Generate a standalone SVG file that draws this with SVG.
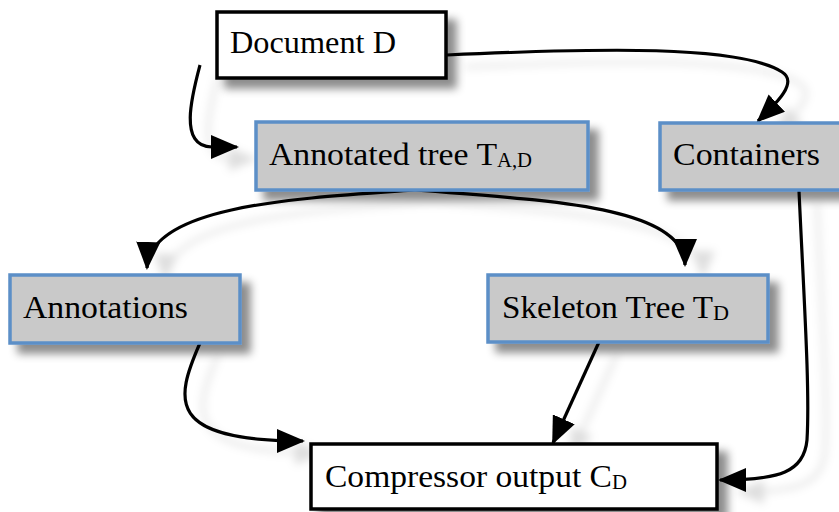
<svg xmlns="http://www.w3.org/2000/svg" width="839" height="512" viewBox="0 0 839 512">
<defs>
<filter id="bs" x="-20%" y="-30%" width="150%" height="180%">
<feDropShadow dx="9" dy="9" stdDeviation="4" flood-color="#000" flood-opacity="0.45"/>
</filter>
<filter id="ls" x="-30%" y="-30%" width="160%" height="160%">
<feDropShadow dx="18" dy="12" stdDeviation="4" flood-color="#000" flood-opacity="0.13"/>
</filter>
<marker id="ah" viewBox="0 0 28 24" refX="26" refY="12" markerWidth="28" markerHeight="24" markerUnits="userSpaceOnUse" orient="auto">
<path d="M0,0 L28,12 L0,24 Z" fill="#000"/>
</marker>
<style>
.w{fill:#fff;stroke:#000;stroke-width:3.5}
.g{fill:#c9c9c9;stroke:#5b8fc7;stroke-width:3.5}
.t{font-family:"Liberation Serif","Times New Roman",serif;font-size:31px;fill:#000}
.s{font-size:20px}
.c{fill:none;stroke:#000;stroke-width:3.2;marker-end:url(#ah)}
</style>
</defs>
<g id="connectors" filter="url(#ls)">
<path class="c" d="M200,65 C192,95 178,147 212,147 L237,147"/>
<path class="c" d="M447,55 C600,48 740,45 782,72 C798,82 778,102 758,121"/>
<path class="c" d="M415,190 C300,198 150,205 147,268"/>
<path class="c" d="M415,190 C540,200 685,205 685,265"/>
<path class="c" d="M200,343 C175,400 165,441 303,441"/>
<path class="c" d="M599,342 L553,443"/>
<path class="c" d="M799,191 C804,300 810,390 807,440 C804,472 780,480 720,480"/>
</g>
<g id="document">
<rect class="w" x="217" y="12" width="229" height="66" filter="url(#bs)"/>
<text class="t" x="230" y="53" textLength="166" lengthAdjust="spacingAndGlyphs">Document D</text>
</g>
<g id="annotated">
<rect class="g" x="256" y="122" width="332" height="68" filter="url(#bs)"/>
<text class="t" x="269" y="165"><tspan textLength="228" lengthAdjust="spacingAndGlyphs">Annotated tree T</tspan><tspan class="s" dy="2" textLength="35" lengthAdjust="spacingAndGlyphs">A,D</tspan></text>
</g>
<g id="containers">
<rect class="g" x="660" y="123" width="190" height="67" filter="url(#bs)"/>
<text class="t" x="673" y="165" textLength="147" lengthAdjust="spacingAndGlyphs">Containers</text>
</g>
<g id="annotations">
<rect class="g" x="10" y="275" width="230" height="68" filter="url(#bs)"/>
<text class="t" x="23" y="318" textLength="165" lengthAdjust="spacingAndGlyphs">Annotations</text>
</g>
<g id="skeleton">
<rect class="g" x="488" y="275" width="280" height="67" filter="url(#bs)"/>
<text class="t" x="502" y="318"><tspan textLength="211" lengthAdjust="spacingAndGlyphs">Skeleton Tree T</tspan><tspan class="s" dy="2" textLength="16" lengthAdjust="spacingAndGlyphs">D</tspan></text>
</g>
<g id="compressor">
<rect class="w" x="311" y="444" width="406" height="65" filter="url(#bs)"/>
<text class="t" x="325" y="487"><tspan textLength="287" lengthAdjust="spacingAndGlyphs">Compressor output C</tspan><tspan class="s" dy="2" textLength="15" lengthAdjust="spacingAndGlyphs">D</tspan></text>
</g>
</svg>
